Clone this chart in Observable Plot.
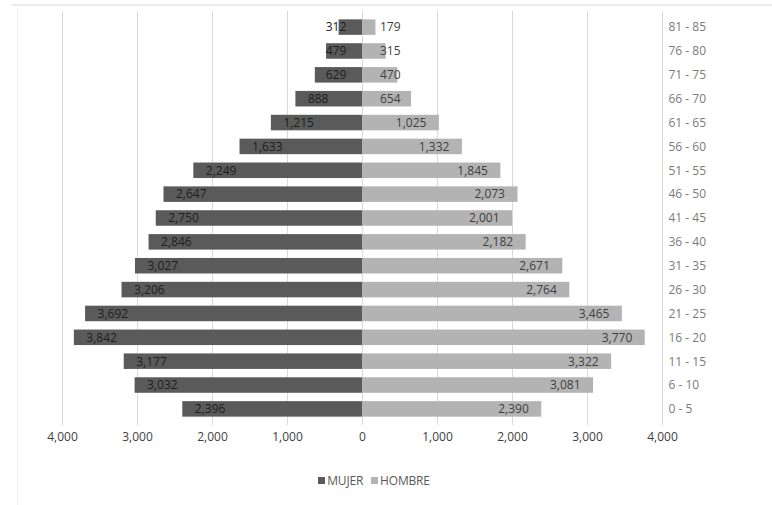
<!DOCTYPE html>
<html>
<head>
<meta charset="utf-8">
<script src="https://cdn.jsdelivr.net/npm/d3@7"></script>
<script src="https://cdn.jsdelivr.net/npm/@observablehq/plot@0.6"></script>
<style>
  html, body { margin: 0; padding: 0; background: #fff; }
  #wrap { position: relative; width: 772px; height: 505px; font-family: "Open Sans", sans-serif; }
  #topline { position: absolute; left: 12px; right: 0; top: 4px; height: 0; border-top: 2px solid #ececec; }
  #leftline { position: absolute; left: 17px; top: 4px; bottom: 0; width: 0; border-left: 1px solid #f0f0f0; }
  #chart { position: absolute; left: 0; top: 0; }
  #legend { position: absolute; top: 472px; left: 0; width: 772px; text-align: center; padding-right: 24px; box-sizing: border-box;
            font-size: 12px; color: #595959; letter-spacing: -0.2px; }
  #legend span.sw { display: inline-block; width: 7px; height: 7px; margin-right: 2px; vertical-align: 1px; }
  #legend span.item { margin: 0 4px; }
</style>
</head>
<body>
<div id="wrap">
  <div id="topline"></div>
  <div id="leftline"></div>
  <div id="chart"></div>
  <div id="legend"></div>
</div>
<script>
const ageGroups = ["0 - 5", "6 - 10", "11 - 15", "16 - 20", "21 - 25", "26 - 30", "31 - 35", "36 - 40",
  "41 - 45", "46 - 50", "51 - 55", "56 - 60", "61 - 65", "66 - 70", "71 - 75", "76 - 80", "81 - 85"];
const mujer  = [2396, 3032, 3177, 3842, 3692, 3206, 3027, 2846, 2750, 2647, 2249, 1633, 1215, 888, 629, 479, 312];
const hombre = [2390, 3081, 3322, 3770, 3465, 2764, 2671, 2182, 2001, 2073, 1845, 1332, 1025, 654, 470, 315, 179];
const xTicks = [-4000, -3000, -2000, -1000, 0, 1000, 2000, 3000, 4000];
const seriesNames = ["MUJER", "HOMBRE"];
const seriesColors = ["#5a5a5a", "#b3b3b3"];

const rows = ageGroups.map((g, i) => ({age: g, m: mujer[i], h: hombre[i]}));
const fmt = d3.format(",");

const plot = Plot.plot({
  width: 772,
  height: 450,
  marginLeft: 62,
  marginRight: 110,
  marginTop: 11,
  marginBottom: 25,
  style: {fontFamily: "'Open Sans', sans-serif", fontSize: "12px", color: "#595959", background: "transparent"},
  x: {domain: [-4000, 4000], ticks: xTicks, tickFormat: d => fmt(Math.abs(d)), tickSize: 0, tickPadding: 7, label: null},
  y: {domain: ageGroups.slice().reverse(), padding: 0.35, round: false, label: null},
  marks: [
    Plot.gridX(xTicks, {stroke: "#d9d9d9", strokeOpacity: 1}),
    Plot.barX(rows, {y: "age", x1: 0, x2: d => -d.m, fill: seriesColors[0]}),
    Plot.barX(rows, {y: "age", x1: 0, x2: "h", fill: seriesColors[1]}),
    Plot.text(rows, {y: "age", x: d => -Math.max(d.m, 650), text: d => fmt(d.m), textAnchor: "start", dx: 12, fill: "#1e1e1e", fontSize: 12}),
    Plot.text(rows, {y: "age", x: d => Math.max(d.h, 680), text: d => fmt(d.h), textAnchor: "end", dx: -13, fill: "#404040", fontSize: 12}),
    Plot.axisY({anchor: "right", tickSize: 0, tickPadding: 6, label: null, fill: "#7a7a7a", fontSize: 12}),
    Plot.axisX({ticks: xTicks, tickFormat: d => fmt(Math.abs(d)), tickSize: 0, tickPadding: 7, label: null, fill: "#404040", fontSize: 12})
  ]
});
document.getElementById("chart").appendChild(plot);

const legend = document.getElementById("legend");
legend.innerHTML = seriesNames.map((n, i) =>
  `<span class="item"><span class="sw" style="background:${seriesColors[i]}"></span>${n}</span>`).join("");
</script>
</body>
</html>
